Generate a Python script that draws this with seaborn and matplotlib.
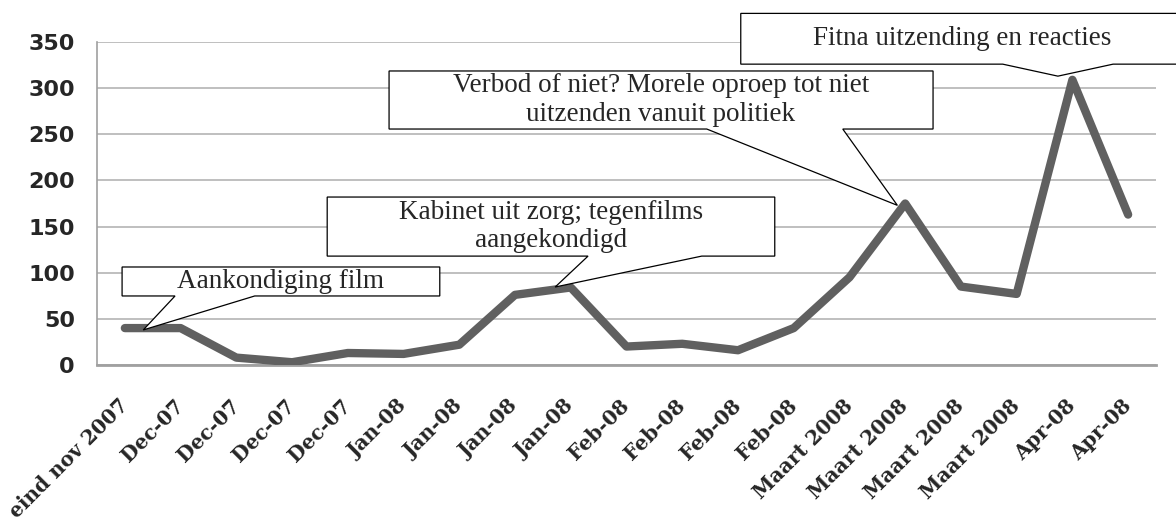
import numpy as np
import pandas as pd
import matplotlib
matplotlib.use("Agg")
import matplotlib.pyplot as plt
from matplotlib.patches import Polygon
import seaborn as sns

# ---- data ----
categories = ["eind nov 2007", "Dec-07", "Dec-07", "Dec-07", "Dec-07",
              "Jan-08", "Jan-08", "Jan-08", "Jan-08",
              "Feb-08", "Feb-08", "Feb-08", "Feb-08",
              "Maart 2008", "Maart 2008", "Maart 2008", "Maart 2008",
              "Apr-08", "Apr-08"]
values = [40, 40, 8, 3, 13, 12, 22, 76, 84, 20, 23, 16, 40, 95, 175, 85, 77, 309, 163]
y_ticks = [0, 50, 100, 150, 200, 250, 300, 350]
callout_texts = ["Aankondiging film",
                 "Kabinet uit zorg; tegenfilms\naangekondigd",
                 "Verbod of niet? Morele oproep tot niet\nuitzenden vanuit politiek",
                 "Fitna uitzending en reacties"]

sns.set_style("white")
plt.rcParams["font.family"] = ["DejaVu Sans"]

fig = plt.figure(figsize=(11.76, 5.2), dpi=100)
ax = fig.add_axes([97 / 1176, 1 - 365 / 520, (1156 - 97) / 1176, 323 / 520])

df = pd.DataFrame({"pos": np.arange(len(values)), "count": values})
sns.lineplot(data=df, x="pos", y="count", ax=ax, color="#606060", linewidth=6,
             solid_capstyle="round", solid_joinstyle="round", zorder=3)

ax.set_xlim(-0.5, len(values) - 0.5)
ax.set_ylim(0, 350)
ax.set_yticks(y_ticks)
ax.set_yticklabels([str(v) for v in y_ticks], fontsize=16, fontweight="bold")
ax.set_xticks(np.arange(len(values)))
ax.set_xticks(np.arange(len(values) + 1) - 0.5, minor=True)
ax.set_xticklabels(categories, rotation=45, ha="right", va="center",
                   rotation_mode="anchor", fontsize=14.5, fontweight="heavy",
                   family="DejaVu Serif")
ax.tick_params(axis="x", which="major", length=0, pad=27)
ax.tick_params(axis="x", which="minor", length=7, width=2, color="#a0a0a0", direction="out")
ax.tick_params(axis="y", length=6, width=1.2, color="#a0a0a0", direction="out", pad=10)
ax.set_xlabel("")
ax.set_ylabel("")
ax.grid(axis="y", color="#b4b4b4", linewidth=1.2)
ax.set_axisbelow(True)
for s in ["top", "right"]:
    ax.spines[s].set_visible(False)
ax.spines["left"].set_color("#a0a0a0")
ax.spines["left"].set_linewidth(1.2)
ax.spines["bottom"].set_color("#a0a0a0")
ax.spines["bottom"].set_linewidth(2)

# callouts: (x0, x1, y_bottom, y_top, base_a, base_b, tip_x, tip_y)
boxes = [
    (-0.05, 5.65, 74.8, 106.2, 0.9, 2.33, 0.33, 38),
    (3.63, 11.66, 118, 182, 8.31, 10.35, 7.72, 84.5),
    (4.74, 14.5, 255.7, 318.6, 10.44, 12.88, 13.86, 173),
    (11.05, 18.98, 326, 381, 15.75, 17.73, 16.74, 313),
]
for (x0, x1, yb, yt, ba, bb, tx, ty), txt in zip(boxes, callout_texts):
    poly = Polygon([(x0, yt), (x1, yt), (x1, yb), (bb, yb), (tx, ty), (ba, yb), (x0, yb)],
                   closed=True, facecolor="white", edgecolor="black", linewidth=0.9,
                   clip_on=False, zorder=5)
    ax.add_patch(poly)
    ax.text((x0 + x1) / 2, (yb + yt) / 2, txt, ha="center", va="center",
            fontsize=19.5, family="Liberation Serif", linespacing=1.2,
            zorder=6, clip_on=False)

fig.savefig("out.png", dpi=100)
